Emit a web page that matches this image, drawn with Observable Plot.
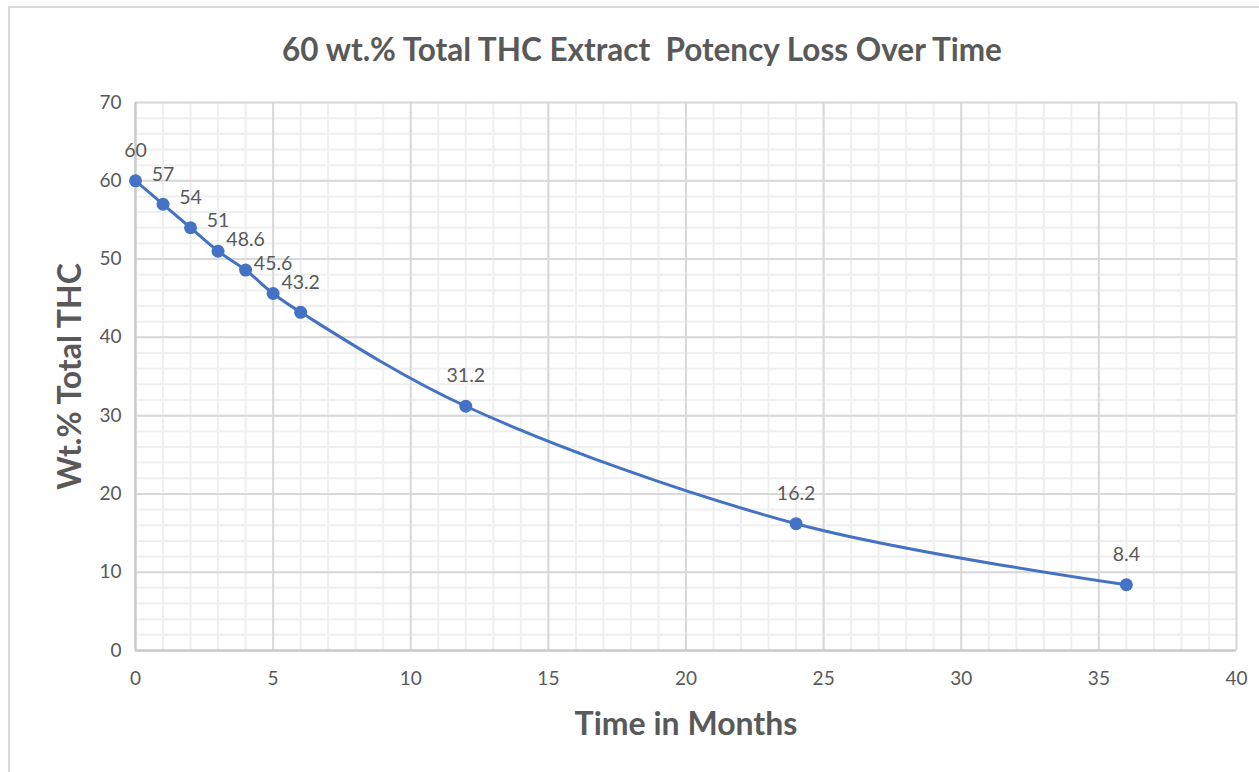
<!DOCTYPE html>
<html><head><meta charset="utf-8">
<script src="https://cdn.jsdelivr.net/npm/d3@7"></script>
<script src="https://cdn.jsdelivr.net/npm/@observablehq/plot@0.6"></script>
<style>
html,body{margin:0;padding:0;background:#fff;overflow:hidden}
#frame{position:absolute;left:8px;top:6px;width:1260px;height:790px;border:2px solid #d9d9d9;box-sizing:border-box}
#chart{position:absolute;left:0;top:0}
</style></head><body>
<div id="frame"></div>
<div id="chart"></div>
<script>
const months = [0, 1, 2, 3, 4, 5, 6, 12, 24, 36];
const thc = [60, 57, 54, 51, 48.6, 45.6, 43.2, 31.2, 16.2, 8.4];
const labels = ["60", "57", "54", "51", "48.6", "45.6", "43.2", "31.2", "16.2", "8.4"];
const xTicks = [0, 5, 10, 15, 20, 25, 30, 35, 40];
const yTicks = [0, 10, 20, 30, 40, 50, 60, 70];
const xMinor = d3.range(0, 41, 1);
const yMinor = d3.range(0, 71, 2);
const title = "60 wt.% Total THC Extract  Potency Loss Over Time";

const data = months.map((m, i) => ({m, v: thc[i], label: labels[i]}));
const font = "Lato, 'Open Sans', sans-serif";
const grey = "#595959";

const chart = Plot.plot({
  width: 1259, height: 772,
  marginLeft: 135, marginRight: 23, marginTop: 102, marginBottom: 122,
  style: {fontFamily: font, fontSize: "19px", color: grey, background: "transparent"},
  x: {domain: [0, 40], label: "Time in Months", labelArrow: "none", labelAnchor: "center", labelOffset: 84, ticks: xTicks, tickSize: 0, tickPadding: 21},
  y: {domain: [0, 70], label: "Wt.% Total THC", labelArrow: "none", labelAnchor: "center", labelOffset: 77, ticks: yTicks, tickSize: 0, tickPadding: 14},
  marks: [
    Plot.ruleX(xMinor, {stroke: "#efefef", strokeWidth: 2}),
    Plot.ruleY(yMinor, {stroke: "#efefef", strokeWidth: 2}),
    Plot.ruleX(xTicks, {stroke: "#d9d9d9", strokeWidth: 2}),
    Plot.ruleY(yTicks, {stroke: "#d9d9d9", strokeWidth: 2}),
    Plot.ruleX([0], {stroke: "#c8c8c8", strokeWidth: 2}),
    Plot.ruleY([0], {stroke: "#c8c8c8", strokeWidth: 2}),
    Plot.line(data, {x: "m", y: "v", stroke: "#4472c4", strokeWidth: 3, curve: "catmull-rom"}),
    Plot.dot(data, {x: "m", y: "v", fill: "#4472c4", r: 6.5}),
    Plot.text(data, {x: "m", y: "v", text: "label", dy: -30, fill: grey, fontSize: 19.5}),
    Plot.text([title], {frameAnchor: "top", dx: -44, dy: -64, fill: grey, fontSize: 31.5, fontWeight: "bold"})
  ]
});
chart.querySelectorAll("[aria-label='x-axis label'] text, [aria-label='y-axis label'] text").forEach(t => {
  t.setAttribute("font-size", "32");
  t.setAttribute("font-weight", "bold");
  t.style.fontSize = "32px";
  t.style.fontWeight = "bold";
});
document.getElementById("chart").append(chart);
</script>
</body></html>
